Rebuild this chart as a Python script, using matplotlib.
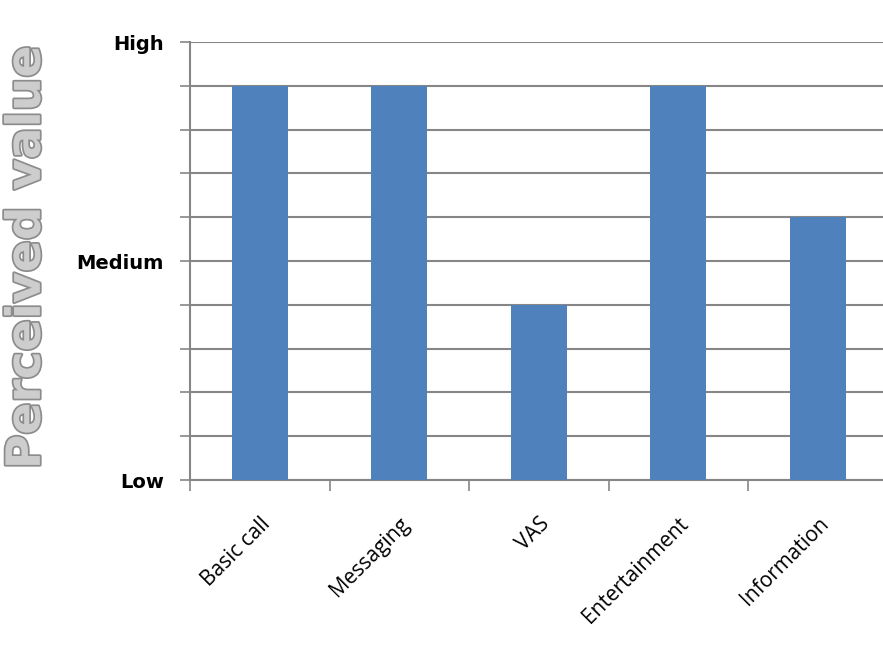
import matplotlib.pyplot as plt
import matplotlib.patheffects as pe

categories = ["Basic call", "Messaging", "VAS", "Entertainment", "Information"]
values = [9, 9, 4, 9, 6]

level_ticks = [0, 5, 10]
level_labels = ["Low", "Medium", "High"]

fig = plt.figure(figsize=(8.83, 6.68), dpi=100)
ax = fig.add_axes([0.2152, 0.2814, 0.79, 0.6557])

x = range(len(categories))
ax.bar(x, values, width=0.4, color="#4f81bd", zorder=3)

ax.set_xlim(-0.5, len(categories) - 0.5)
ax.set_ylim(0, 10)

# horizontal grid on every step, labels only at low / medium / high
ax.set_yticks(range(0, 11))
ax.set_yticklabels([level_labels[level_ticks.index(v)] if v in level_ticks else "" for v in range(0, 11)],
                   family=["Liberation Sans Narrow", "DejaVu Sans"], fontweight="bold", fontsize=14)
ax.yaxis.grid(True, color="#868686", linewidth=1.5, zorder=0)
ax.tick_params(axis="y", length=7, width=1.2, color="#868686", pad=12)

# category ticks sit on the boundaries between bars
ax.set_xticks([i - 0.5 for i in range(len(categories) + 1)])
ax.set_xticklabels([])
ax.set_xticks(list(x), minor=True)
ax.set_xticklabels(categories, minor=True, rotation=45, ha="right", rotation_mode="anchor",
                   family=["Open Sans", "DejaVu Sans"], fontsize=15)
ax.tick_params(axis="x", which="major", length=8, width=1.2, color="#868686")
ax.tick_params(axis="x", which="minor", length=0, pad=24)

for side in ["top", "right"]:
    ax.spines[side].set_visible(False)
for side in ["left", "bottom"]:
    ax.spines[side].set_color("#868686")
    ax.spines[side].set_linewidth(1.5)

fig.text(0.031, 0.615, "Perceived value", rotation=90, ha="center", va="center",
         fontsize=34, fontweight="bold", color="#cdcdcd",
         path_effects=[pe.Stroke(linewidth=2.5, foreground="#8c8c8c"), pe.Normal()])

fig.savefig("out.png", dpi=100)
